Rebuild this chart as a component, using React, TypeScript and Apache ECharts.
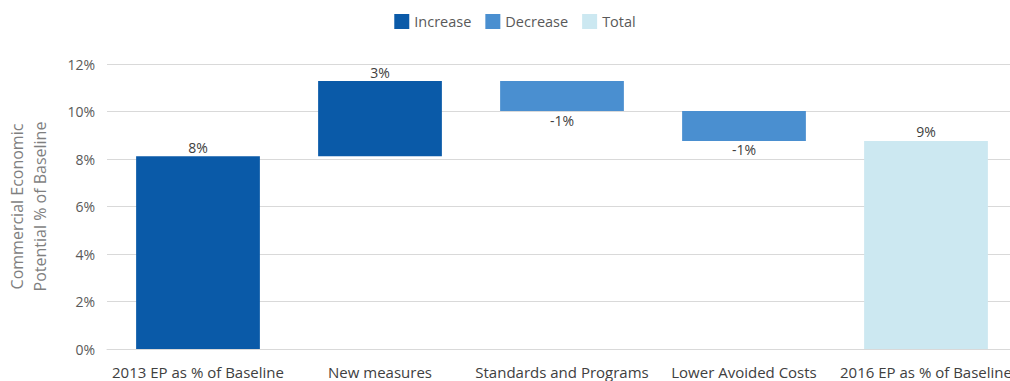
import React, { useEffect, useRef } from "react";
import * as echarts from "echarts";

const categories = [
  "2013 EP as % of Baseline",
  "New measures",
  "Standards and Programs",
  "Lower Avoided Costs",
  "2016 EP as % of Baseline",
];
const increaseValues: (number | null)[] = [8.12, 3.16, null, null, null];
const decreaseValues: (number | null)[] = [null, null, 1.26, 1.26, null];
const totalValues: (number | null)[] = [null, null, null, null, 8.76];
const yTicks = [0, 2, 4, 6, 8, 10, 12];

const FONT = "'Open Sans', 'Noto Sans', sans-serif";

export default function App() {
  const ref = useRef<HTMLDivElement>(null);
  useEffect(() => {
    if (!ref.current) return;
    const chart = echarts.init(ref.current, undefined, { renderer: "svg" });
    // invisible base for waterfall, computed from running total
    const base: number[] = [];
    let run = 0;
    categories.forEach((_, i) => {
      const inc = increaseValues[i];
      const dec = decreaseValues[i];
      const tot = totalValues[i];
      if (tot != null) {
        base.push(0);
        run = tot;
      } else if (inc != null) {
        base.push(run);
        run += inc;
      } else if (dec != null) {
        run -= dec;
        base.push(run);
      } else base.push(0);
    });
    const toData = (a: (number | null)[]) => a.map((v) => (v == null ? "-" : v));
    chart.setOption({
      animation: false,
      textStyle: { fontFamily: FONT },
      legend: {
        data: ["Increase", "Decrease", "Total"],
        top: 9,
        left: "center",
        itemWidth: 15,
        itemHeight: 15,
        itemGap: 14,
        icon: "rect",
        textStyle: { fontSize: 14.5, color: "#595959", fontFamily: FONT },
      },
      grid: { left: 107, right: 13, top: 64, bottom: 32, outerBoundsMode: "none", containLabel: false },
      xAxis: {
        type: "category",
        data: categories,
        axisLine: { lineStyle: { color: "#d9d9d9" } },
        axisTick: { show: false },
        axisLabel: { color: "#404040", fontSize: 15, margin: 15, interval: 0, fontFamily: FONT },
      },
      yAxis: {
        type: "value",
        min: yTicks[0],
        max: yTicks[yTicks.length - 1],
        interval: 2,
        name: "Commercial Economic\nPotential % of Baseline",
        nameLocation: "middle",
        nameGap: 56,
        nameTextStyle: { color: "#7f7f7f", fontSize: 16, lineHeight: 23, fontFamily: FONT },
        axisLabel: { formatter: "{value}%", color: "#595959", fontSize: 14, margin: 12, fontFamily: FONT },
        splitLine: { lineStyle: { color: "#d9d9d9" } },
        axisLine: { show: false },
        axisTick: { show: false },
      },
      series: [
        {
          name: "base",
          type: "bar",
          stack: "w",
          data: base,
          itemStyle: { color: "transparent" },
          barWidth: "68%",
          silent: true,
        },
        {
          name: "Increase",
          type: "bar",
          stack: "w",
          data: toData(increaseValues),
          itemStyle: { color: "#0a5aa8" },
          label: {
            show: true,
            position: "top",
            distance: 2,
            color: "#404040",
            fontSize: 14,
            formatter: (p: any) => Math.round(p.value) + "%",
          },
        },
        {
          name: "Decrease",
          type: "bar",
          stack: "w",
          data: toData(decreaseValues),
          itemStyle: { color: "#4a8fd0" },
          label: {
            show: true,
            position: "bottom",
            distance: 2,
            color: "#404040",
            fontSize: 14,
            formatter: (p: any) => "-" + Math.round(p.value) + "%",
          },
        },
        {
          name: "Total",
          type: "bar",
          stack: "w",
          data: toData(totalValues),
          itemStyle: { color: "#cce8f1" },
          label: {
            show: true,
            position: "top",
            distance: 2,
            color: "#404040",
            fontSize: 14,
            formatter: (p: any) => Math.round(p.value) + "%",
          },
        },
      ],
    });
    return () => chart.dispose();
  }, []);
  return (
    <div
      ref={ref}
      style={{ position: "fixed", left: 0, top: 0, width: 1030, height: 381, background: "#fff" }}
    />
  );
}
